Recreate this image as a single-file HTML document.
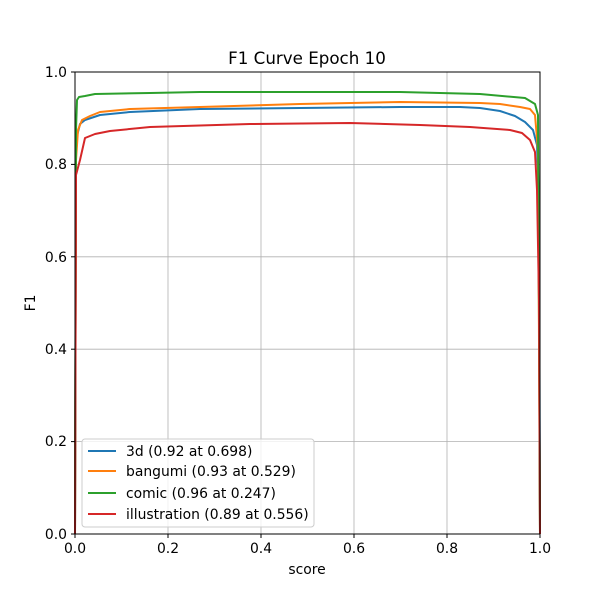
<!DOCTYPE html>
<html><head><style>body{margin:0;background:#fff}</style></head><body>
<svg width="600" height="600" xmlns="http://www.w3.org/2000/svg" font-family="DejaVu Sans, Liberation Sans, sans-serif">
<rect width="600" height="600" fill="#fff"/>
<g stroke="#b0b0b0" stroke-width="0.8">
<line x1="168" y1="72" x2="168" y2="534"/><line x1="261" y1="72" x2="261" y2="534"/><line x1="354" y1="72" x2="354" y2="534"/><line x1="447" y1="72" x2="447" y2="534"/>
<line x1="75" y1="164.4" x2="540" y2="164.4"/><line x1="75" y1="256.8" x2="540" y2="256.8"/><line x1="75" y1="349.2" x2="540" y2="349.2"/><line x1="75" y1="441.6" x2="540" y2="441.6"/>
</g>
<g fill="none" stroke-width="2" stroke-linejoin="round">
<polyline stroke="#1f77b4" points="75,534 76,140 80,124 85,120 100,115 130,112 200,109 300,108 400,107 460,107 480,108 500,111 515,116 525,122 533,130 537,145 539,200 540,534"/>
<polyline stroke="#ff7f0e" points="75,534 76,160 78,130 82,120 90,116 100,112 130,109 200,107 300,104 400,102 480,103 500,104 520,107 530,109 535,115 538,150 540,534"/>
<polyline stroke="#2ca02c" points="75,534 76,130 77,100 79,97 85,96 95,94 150,93 200,92 400,92 480,94 525,98 535,104 538,115 540,534"/>
<polyline stroke="#d62728" points="75,534 76,175 80,160 85,138 95,134 110,131 150,127 250,124 350,123 420,125 470,127 510,130 522,133 530,140 535,152 537,190 539,300 540,534"/>
</g>
<rect x="75" y="72" width="465" height="462" fill="none" stroke="#000" stroke-width="1"/>
<g stroke="#000"><line x1="75" y1="534" x2="75" y2="538"/><line x1="168" y1="534" x2="168" y2="538"/><line x1="261" y1="534" x2="261" y2="538"/><line x1="354" y1="534" x2="354" y2="538"/><line x1="447" y1="534" x2="447" y2="538"/><line x1="540" y1="534" x2="540" y2="538"/>
<line x1="71" y1="72" x2="75" y2="72"/><line x1="71" y1="164.4" x2="75" y2="164.4"/><line x1="71" y1="256.8" x2="75" y2="256.8"/><line x1="71" y1="349.2" x2="75" y2="349.2"/><line x1="71" y1="441.6" x2="75" y2="441.6"/><line x1="71" y1="534" x2="75" y2="534"/></g>
<g font-size="13.9" fill="#000" text-anchor="middle">
<text x="75" y="553">0.0</text><text x="168" y="553">0.2</text><text x="261" y="553">0.4</text><text x="354" y="553">0.6</text><text x="447" y="553">0.8</text><text x="540" y="553">1.0</text>
<text x="307" y="574">score</text>
<text x="307" y="64" font-size="16.7">F1 Curve Epoch 10</text>
<text x="35" y="303" transform="rotate(-90 35 303)">F1</text>
</g>
<g font-size="13.9" fill="#000" text-anchor="end">
<text x="67" y="77">1.0</text><text x="67" y="169">0.8</text><text x="67" y="262">0.6</text><text x="67" y="354">0.4</text><text x="67" y="446">0.2</text><text x="67" y="539">0.0</text>
</g>
<rect x="82" y="439" width="232" height="88" rx="3" fill="#fff" fill-opacity="0.8" stroke="#ccc"/>
<g stroke-width="2"><line x1="88" y1="451" x2="116" y2="451" stroke="#1f77b4"/><line x1="88" y1="471" x2="116" y2="471" stroke="#ff7f0e"/><line x1="88" y1="493" x2="116" y2="493" stroke="#2ca02c"/><line x1="88" y1="514" x2="116" y2="514" stroke="#d62728"/></g>
<g font-size="13.9" fill="#000">
<text x="126" y="456">3d (0.92 at 0.698)</text><text x="126" y="476">bangumi (0.93 at 0.529)</text><text x="126" y="498">comic (0.96 at 0.247)</text><text x="126" y="519">illustration (0.89 at 0.556)</text>
</g>
</svg>
</body></html>
